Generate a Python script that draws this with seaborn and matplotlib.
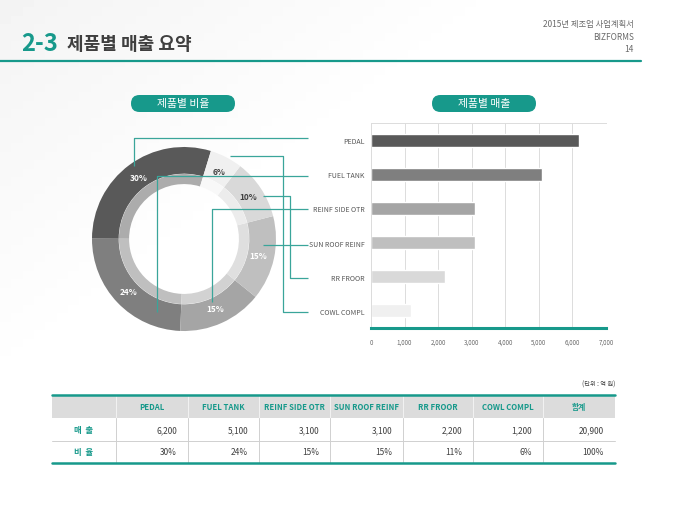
import numpy as np
import matplotlib
matplotlib.use("Agg")
import matplotlib.pyplot as plt
from matplotlib.patches import FancyBboxPatch, Rectangle
import seaborn as sns

# data
products = ["PEDAL", "FUEL TANK", "REINF SIDE OTR", "SUN ROOF REINF", "RR FROOR", "COWL COMPL"]
sales = [6200, 5100, 3100, 3100, 2200, 1200]
donut_labels = ["30%", "24%", "15%", "15%", "10%", "6%"]
table_ratio = ["30%", "24%", "15%", "15%", "11%", "6%", "100%"]
greys = ["#595959", "#7f7f7f", "#a5a5a5", "#bfbfbf", "#d9d9d9", "#f0f0f0"]
xticks = [0, 1000, 2000, 3000, 4000, 5000, 6000, 7000]

sns.set_theme(style="white")
plt.rcParams["font.family"] = ["Noto Sans CJK KR", "DejaVu Sans"]

TEAL = "#17998b"
LINE = "#3aa59a"
W, H = 680, 510
fig = plt.figure(figsize=(6.8, 5.1), dpi=100)


def px_axes(x0, y0, x1, y1, **kw):
    return fig.add_axes([x0 / W, 1 - y1 / H, (x1 - x0) / W, (y1 - y0) / H], **kw)


# background / page
bg = fig.add_axes([0, 0, 1, 1])
bg.set_xlim(0, W)
bg.set_ylim(H, 0)
bg.axis("off")
g = np.add.outer(np.linspace(0, 1, 60), np.linspace(0, 1, 60)) / 2
g = 0.955 + 0.045 * np.clip(g * 2.6, 0, 1)
bg.imshow(g, cmap="gray", vmin=0, vmax=1, extent=(0, W, H, 0), aspect="auto", zorder=0)

bg.text(21, 44, "2-3", color=TEAL, fontsize=17, fontweight="bold", va="center")
bg.text(67, 44, "제품별 매출 요약", color="#3f3f3f", fontsize=13, fontweight="bold", va="center")
bg.plot([0, 641], [62, 62], color=TEAL, lw=1.6)
for y, s in zip([25, 37, 49], ["2015년 제조업 사업계획서", "BIZFORMS", "14"]):
    bg.text(634, y, s, color="#6a6a6a", fontsize=6, ha="right", va="center")

# pills
for cx, s in [(183, "제품별 비율"), (484, "제품별 매출")]:
    bg.add_patch(FancyBboxPatch((cx - 52, 96), 104, 17,
                                boxstyle="round,pad=0,rounding_size=8.5",
                                fc=TEAL, ec="none"))
    bg.text(cx, 104.5, s, color="white", fontsize=7.8, ha="center", va="center")

# donut
ax_d = px_axes(92, 148, 276, 332)
inner = [tuple(0.5 + 0.5 * np.array(matplotlib.colors.to_rgb(c))) for c in greys]
wedges, _ = ax_d.pie(sales, radius=1, colors=greys, startangle=73, counterclock=True,
                     wedgeprops=dict(width=0.29, linewidth=0))
ax_d.pie(sales, radius=0.707, colors=inner, startangle=73, counterclock=True,
         wedgeprops=dict(width=0.11, linewidth=0))
for i, (w, lab) in enumerate(zip(wedges, donut_labels)):
    ang = np.deg2rad((w.theta1 + w.theta2) / 2)
    col = "white" if i < 4 else "#404040"
    ax_d.text(0.83 * np.cos(ang), 0.83 * np.sin(ang), lab, color=col,
              fontsize=6, fontweight="bold", ha="center", va="center")
ax_d.set_xlim(-1, 1)
ax_d.set_ylim(-1, 1)
ax_d.set_aspect("equal")

# horizontal bars
ax_b = px_axes(371, 124, 606, 329)
ax_b.set_facecolor("none")
sns.barplot(x=sales, y=products, hue=products, palette=greys, legend=False,
            width=0.38, saturation=1, ax=ax_b)
ax_b.set_xlim(0, 7000)
ax_b.set_xticks(xticks)
ax_b.set_xticklabels([f"{v:,}" for v in xticks])
ax_b.xaxis.grid(True, color="#dcdcdc", lw=0.7)
ax_b.set_axisbelow(True)
ax_b.set_xlabel("")
ax_b.set_ylabel("")
for side in ["top", "left", "right"]:
    ax_b.spines[side].set_color("#dcdcdc")
    ax_b.spines[side].set_linewidth(0.7)
ax_b.spines["right"].set_visible(False)
ax_b.spines["bottom"].set_color(TEAL)
ax_b.spines["bottom"].set_linewidth(2.2)
ax_b.tick_params(axis="x", labelsize=4.5, colors="#6a6a6a", length=0, pad=7)
ax_b.tick_params(axis="y", labelsize=5, colors="#555555", length=0, pad=4.5)

# table
cols = [52, 116, 188, 259, 330, 403, 473, 543, 615]
rows = [396, 419, 442, 464]
bg.add_patch(Rectangle((cols[0], rows[0]), cols[-1] - cols[0], rows[1] - rows[0],
                       fc="#dcdcdc", ec="none", zorder=1))
bg.add_patch(Rectangle((cols[0], rows[1]), cols[-1] - cols[0], rows[3] - rows[1],
                       fc="white", ec="none", zorder=1))
for x in cols[1:-1]:
    bg.plot([x, x], [rows[0], rows[1]], color="#f2f2f2", lw=0.7, zorder=2)
    bg.plot([x, x], [rows[1], rows[3]], color="#d0d0d0", lw=0.7, zorder=2)
bg.plot([cols[0], cols[-1]], [rows[2], rows[2]], color="#d0d0d0", lw=0.7, zorder=2)
bg.plot([cols[0], cols[-1]], [rows[0], rows[0]], color=TEAL, lw=1.8, zorder=3)
bg.plot([cols[0], cols[-1]], [rows[3], rows[3]], color=TEAL, lw=1.8, zorder=3)

heads = products + ["합계"]
sales_txt = [f"{v:,}" for v in sales] + [f"{sum(sales):,}"]
for j, hd in enumerate(heads):
    cx = (cols[j + 1] + cols[j + 2]) / 2
    bg.text(cx, (rows[0] + rows[1]) / 2, hd, color=TEAL, fontsize=5.6,
            fontweight="bold", ha="center", va="center", zorder=4)
    xr = cols[j + 2] - 11
    bg.text(xr, (rows[1] + rows[2]) / 2, sales_txt[j], color="#404040", fontsize=6,
            ha="right", va="center", zorder=4)
    bg.text(xr, (rows[2] + rows[3]) / 2, table_ratio[j], color="#404040", fontsize=6,
            ha="right", va="center", zorder=4)
c0 = (cols[0] + cols[1]) / 2
bg.text(c0, (rows[1] + rows[2]) / 2, "매  출", color=TEAL, fontsize=6,
        fontweight="bold", ha="center", va="center", zorder=4)
bg.text(c0, (rows[2] + rows[3]) / 2, "비  율", color=TEAL, fontsize=6,
        fontweight="bold", ha="center", va="center", zorder=4)
bg.text(615, 385, "(단위 : 억 원)", color="#404040", fontsize=4.5, ha="right", va="center")

# leader lines from donut to bar labels
ov = fig.add_axes([0, 0, 1, 1], zorder=10)
ov.set_facecolor("none")
ov.set_xlim(0, W)
ov.set_ylim(H, 0)
ov.axis("off")
leaders = [
    ([134, 134, 308], [167, 139, 139]),
    ([157, 157, 308], [313, 177, 177]),
    ([212, 212, 308], [303, 210, 210]),
    ([263, 308], [246, 246]),
    ([263, 290, 290, 308], [197, 197, 279, 279]),
    ([230, 283, 283, 308], [157, 157, 313, 313]),
]
for xs, ys in leaders:
    ov.plot(xs, ys, color=LINE, lw=0.9, solid_capstyle="butt")

fig.savefig("out.png", dpi=100)
